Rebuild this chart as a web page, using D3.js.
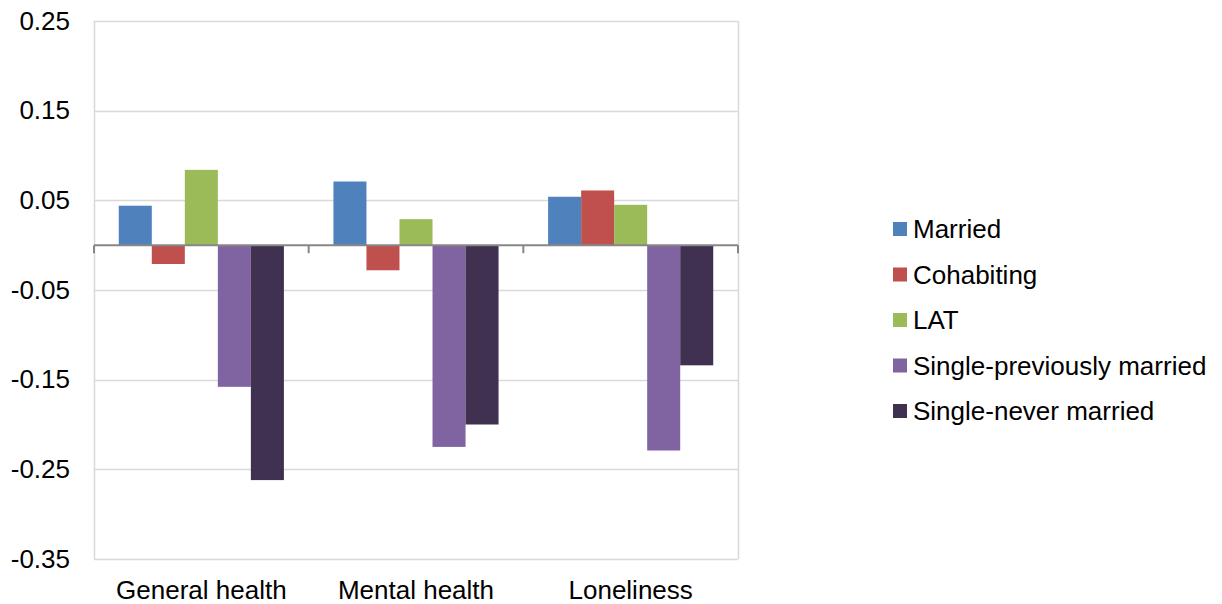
<!DOCTYPE html>
<html><head><meta charset="utf-8">
<script src="https://cdn.jsdelivr.net/npm/d3@7"></script>
<style>body{margin:0;background:#fff}svg{display:block}text{font-family:"Liberation Sans",Arial,sans-serif;fill:#000}</style>
</head><body>
<svg id="c" width="1222" height="604"></svg>
<script>
const categories = ["General health", "Mental health", "Loneliness"];
const seriesNames = ["Married", "Cohabiting", "LAT", "Single-previously married", "Single-never married"];
const married = [0.044, 0.071, 0.054];
const cohabiting = [-0.021, -0.028, 0.061];
const lat = [0.084, 0.029, 0.045];
const singlePrev = [-0.158, -0.225, -0.229];
const singleNever = [-0.262, -0.200, -0.134];
const tickValues = [0.25, 0.15, 0.05, -0.05, -0.15, -0.25, -0.35];
const colors = ["#4F81BD", "#C0504D", "#9BBB59", "#8064A2", "#403151"];

const seriesValues = [married, cohabiting, lat, singlePrev, singleNever];
const svg = d3.select("#c");
const L = 94, R = 738, T = 21, B = 559;
const FS = 26;
const y = d3.scaleLinear().domain([-0.35, 0.25]).range([B, T]);
const x0 = d3.scaleBand().domain(categories).range([L, R]).paddingInner(0).paddingOuter(0);
const nb = seriesNames.length;
const bw = x0.bandwidth() / (nb + 1.5);
const off = bw * 0.75;

// gridlines
svg.append("g").selectAll("line").data(tickValues).join("line")
  .attr("x1", L).attr("x2", R).attr("y1", d => Math.round(y(d)) + 0.5).attr("y2", d => Math.round(y(d)) + 0.5)
  .attr("stroke", "#D9D9D9").attr("stroke-width", 1.5);
// plot border sides
svg.append("line").attr("x1", L + 0.5).attr("x2", L + 0.5).attr("y1", T).attr("y2", B).attr("stroke", "#D9D9D9").attr("stroke-width", 1.5);
svg.append("line").attr("x1", R + 0.5).attr("x2", R + 0.5).attr("y1", T).attr("y2", B).attr("stroke", "#D9D9D9").attr("stroke-width", 1.5);

// bars
const rows = [];
categories.forEach((c, i) => seriesNames.forEach((s, j) => rows.push({c, s, j, v: seriesValues[j][i]})));
svg.append("g").selectAll("rect").data(rows).join("rect")
  .attr("x", d => x0(d.c) + off + d.j * bw)
  .attr("width", bw)
  .attr("y", d => y(Math.max(0, d.v)))
  .attr("height", d => Math.abs(y(d.v) - y(0)))
  .attr("fill", d => colors[d.j]);

// zero axis
const xAxis = d3.axisBottom(x0).tickSize(8).tickFormat("");
const gx = svg.append("g").attr("transform", `translate(0,${y(0)})`).call(xAxis);
gx.select(".domain").attr("stroke", "#878787").attr("stroke-width", 2).attr("d", `M${L},0H${R}`);
gx.selectAll(".tick").remove();
const bounds = categories.map(c => x0(c)).concat([R]);
gx.selectAll("line.sep").data(bounds).join("line").attr("class", "sep")
  .attr("x1", d => d).attr("x2", d => d).attr("y1", 0).attr("y2", 8)
  .attr("stroke", "#878787").attr("stroke-width", 2);

// y axis labels
const fmt = d => d3.format(".2f")(d).replace("\u2212", "-");
const yAxis = d3.axisLeft(y).tickValues(tickValues).tickSize(0).tickPadding(24).tickFormat(fmt);
const gy = svg.append("g").attr("transform", `translate(${L},0)`).call(yAxis);
gy.select(".domain").remove();
gy.selectAll("text").attr("font-size", FS).attr("font-family", "Liberation Sans, Arial, sans-serif").attr("fill", "#000");

// category labels
svg.append("g").selectAll("text").data(categories).join("text")
  .attr("x", d => x0(d) + x0.bandwidth() / 2).attr("y", 599)
  .attr("text-anchor", "middle").attr("font-size", FS).text(d => d);

// legend
const lg = svg.append("g").selectAll("g").data(seriesNames).join("g")
  .attr("transform", (d, i) => `translate(893,${229 + i * 45.5})`);
lg.append("rect").attr("x", 0).attr("y", -7).attr("width", 14).attr("height", 14).attr("fill", (d, i) => colors[i]);
lg.append("text").attr("x", 20).attr("y", 0).attr("dy", "0.35em").attr("font-size", FS).text(d => d);
</script>
</body></html>
